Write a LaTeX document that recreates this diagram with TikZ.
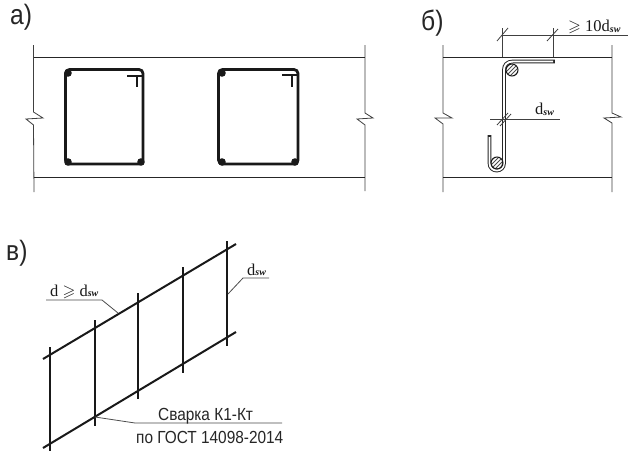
\documentclass[tikz,border=0pt]{standalone}
\usepackage{amssymb}
\usepackage{fontspec}
\setmainfont{Liberation Serif}
\setsansfont{Liberation Sans}
\begin{document}
\begin{tikzpicture}[x=1pt,y=-1pt,
  thinline/.style={line width=0.8pt,black!75},
  conc/.style={line width=1pt,black!85},
  stirrup/.style={line width=2.8pt,black!90,rounded corners=4pt},
  hookbar/.style={line width=1.8pt,black!90},
  dotbar/.style={fill=black!90,draw=none},
  rebar/.style={line width=3.8pt,black!85},
  rebarin/.style={line width=1.9pt,white},
  mesh/.style={line width=2pt,black!90},
  leader/.style={line width=0.8pt,black!70},
  headlabel/.style={font=\sffamily\fontsize{28}{28}\selectfont,anchor=base west,inner sep=0pt,black!85,xscale=0.88},
  serifnote/.style={font=\fontsize{16.5}{17}\selectfont,anchor=base west,inner sep=0pt,black!90},
  sansnote/.style={font=\sffamily\fontsize{17.5}{18}\selectfont,anchor=base west,inner sep=0pt,black!85,xscale=0.88}]
\useasboundingbox[fill=white] (0,0) rectangle (640,466);
\newcommand{\dsub}{d\raisebox{-0.5pt}{\fontsize{10}{10}\selectfont\itshape\bfseries sw}}

% panel a
\node[headlabel] (la) at (10,24) {а)};
\draw[thinline] (33.5,45) -- (33.5,112) -- (43,118) -- (26,119) -- (33.5,125) -- (34,192);
\draw[thinline] (365,45) -- (365,113) -- (373,118) -- (357,119) -- (365,125) -- (365,191);
\draw[conc] (33.5,57) -- (365,57);
\draw[conc] (34,177) -- (365,177);
\draw[stirrup] (65.5,69.5) rectangle (143,164);
\draw[hookbar] (127,76) -- (143,76) (137,76) -- (137,87);
\foreach \p in {(68,73),(68,162),(141,162)} \fill[dotbar] \p circle (3.8);
\draw[stirrup] (218.5,69.5) rectangle (298,164);
\draw[hookbar] (282,75) -- (297,75) (292,75) -- (292,87);
\foreach \p in {(222,73),(222,162),(295,162)} \fill[dotbar] \p circle (3.8);

% panel b
\node[headlabel] (lb) at (421,30) {б)};
\draw[thinline] (443,45) -- (443,113) -- (452,118) -- (435,118) -- (443,124) -- (443,192);
\draw[thinline] (612,45) -- (612,113) -- (621,117) -- (604,118) -- (612,123) -- (612,192);
\draw[conc] (443,57) -- (612,57);
\draw[conc] (443,177) -- (612,177);
\draw[rebar,line cap=rect] (553,61.5) -- (513,61.5) .. controls (507,61.5) and (504,65) .. (504,70) -- (504,163) .. controls (504,173) and (489.5,173) .. (489.5,163) -- (489.5,137);
\draw[rebarin,line cap=butt] (553,61.5) -- (513,61.5) .. controls (507,61.5) and (504,65) .. (504,70) -- (504,163) .. controls (504,173) and (489.5,173) .. (489.5,163) -- (489.5,137);
\foreach \c in {(512,70),(497,163)}{
  \begin{scope}
    \clip \c circle (6);
    \foreach \k in {-8,-4,0,4,8}
      \draw[line width=0.9pt,black!70] \c ++(\k-8,8) -- ++(16,-16);
  \end{scope}
  \draw[line width=1pt,black!90] \c circle (6);
}
\draw[thinline] (502,28) -- (502,57) (553,28) -- (553,57);
\draw[thinline] (502,35) -- (628,35);
\draw[thinline] (497,41) -- (508,28) (547,41) -- (558,29);
\node[serifnote] (lge) at (568,31.5) {$\geqslant$ 10\dsub};
\draw[thinline] (490,119) -- (560,119);
\draw[thinline] (497,125) -- (508,113) (500,126) -- (511,114);
\node[serifnote] (lds1) at (535,114.5) {\dsub};

% panel v
\node[headlabel] (lc) at (6,260) {в)};
\draw[mesh] (43,359) -- (236,244);
\draw[mesh] (43,448) -- (236,332);
\draw[mesh] (50,347) -- (50,451);
\draw[mesh] (95,320) -- (95,426);
\draw[mesh] (138,293) -- (138,399);
\draw[mesh] (183,267) -- (183,373);
\draw[mesh] (227,241) -- (227,346);
\draw[leader] (46,300) -- (102,300) -- (118,313);
\node[serifnote] (ld) at (50,296) {d $\geqslant$ \dsub};
\draw[leader] (269,278) -- (243,278) -- (228,294);
\node[serifnote] (lds2) at (247,275) {\dsub};
\draw[leader] (282,423) -- (135,423) -- (95,417);
\node[sansnote] (lw1) at (158,420.5) {Сварка К1-Кт};
\node[sansnote] (lw2) at (136,443) {по ГОСТ 14098-2014};
\end{tikzpicture}
\end{document}
